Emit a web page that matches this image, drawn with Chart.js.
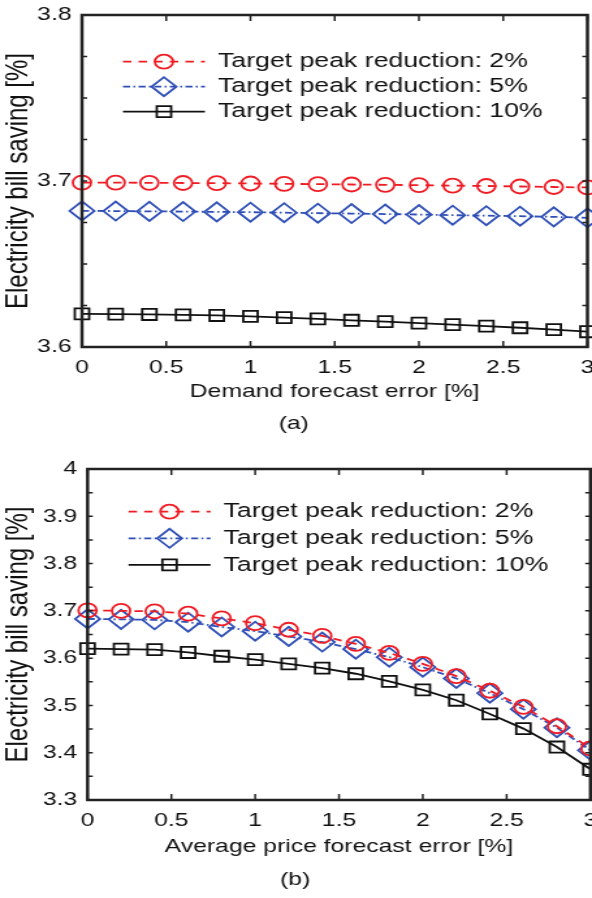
<!DOCTYPE html>
<html>
<head>
<meta charset="utf-8">
<title>Electricity bill saving vs forecast error</title>
<script src="https://cdn.jsdelivr.net/npm/chart.js@4.4.1/dist/chart.umd.min.js"></script>
<style>
  html, body { margin: 0; padding: 0; background: #fff; }
  #wrap { position: relative; width: 592px; height: 898px; overflow: hidden; }
  canvas { position: absolute; left: 0; }
</style>
</head>
<body>
<div id="wrap">
  <!-- the figure is wider than its fonts suggest, so each canvas is stretched sideways -->
  <canvas id="chartA" width="455" height="440" style="top:0;width:592px;height:440px"></canvas>
  <canvas id="chartB" width="455" height="458" style="top:440px;width:592px;height:458px"></canvas>
</div>
<script>
// data
const errorPct = [0, 0.2, 0.4, 0.6, 0.8, 1, 1.2, 1.4, 1.6, 1.8, 2, 2.2, 2.4, 2.6, 2.8, 3];
const seriesLabels = ['Target peak reduction: 2%', 'Target peak reduction: 5%', 'Target peak reduction: 10%'];

// (a) demand forecast error
const demandSave2 = [3.699, 3.699, 3.6989, 3.6988, 3.6987, 3.6985, 3.6983, 3.6981, 3.6979, 3.6977, 3.6975, 3.6972, 3.6970, 3.6967, 3.6964, 3.6961];
const demandSave5 = [3.682, 3.6819, 3.6817, 3.6816, 3.6814, 3.6812, 3.6809, 3.6806, 3.6804, 3.6801, 3.6798, 3.6794, 3.6791, 3.6788, 3.6784, 3.6778];
const demandSave10 = [3.620, 3.6198, 3.6196, 3.6194, 3.619, 3.6184, 3.6177, 3.6169, 3.6161, 3.6153, 3.6144, 3.6135, 3.6126, 3.6116, 3.6105, 3.6092];

// (b) average price forecast error
const priceSave2 = [3.701, 3.700, 3.699, 3.694, 3.684, 3.674, 3.660, 3.647, 3.630, 3.611, 3.588, 3.562, 3.531, 3.497, 3.456, 3.409];
const priceSave5 = [3.683, 3.682, 3.681, 3.676, 3.666, 3.657, 3.646, 3.634, 3.619, 3.602, 3.581, 3.557, 3.526, 3.492, 3.453, 3.405];
const priceSave10 = [3.620, 3.619, 3.618, 3.612, 3.604, 3.597, 3.588, 3.579, 3.567, 3.551, 3.533, 3.511, 3.482, 3.451, 3.412, 3.365];

const xTicks = [0, 0.5, 1, 1.5, 2, 2.5, 3];

const FONT = '"Liberation Sans", Arial, Helvetica, sans-serif';
const RED = '#ee1c24';
const BLUE = '#2f4fb6';
const BLACK = '#111111';

// box round the plot area with inward tick marks on all four sides
const frameTicks = {
    id: 'frameTicks',
    afterDatasetsDraw(chart) {
        const {ctx, chartArea: a, scales: {x, y}} = chart;
        ctx.save();
        ctx.strokeStyle = '#222';
        ctx.lineWidth = 1.5;
        ctx.beginPath();
        x.ticks.forEach(t => {
            const px = x.getPixelForValue(t.value);
            ctx.moveTo(px, a.bottom); ctx.lineTo(px, a.bottom - 6);
            ctx.moveTo(px, a.top); ctx.lineTo(px, a.top + 6);
        });
        y.ticks.forEach(t => {
            const py = y.getPixelForValue(t.value);
            ctx.moveTo(a.left, py); ctx.lineTo(a.left + 4, py);
            ctx.moveTo(a.right, py); ctx.lineTo(a.right - 4, py);
        });
        ctx.stroke();
        ctx.lineWidth = 2.5;
        ctx.strokeRect(a.left, a.top, a.right - a.left, a.bottom - a.top);
        ctx.restore();
    }
};

// legend drawn inside the plot area, like the original figure
const boxLegend = {
    id: 'boxLegend',
    afterDraw(chart, args, opts) {
        const {ctx, chartArea: a} = chart;
        ctx.save();
        chart.data.datasets.forEach((ds, i) => {
            const yy = a.top + opts.top + i * opts.gap;
            const x0 = a.left + opts.left;
            const x1 = x0 + opts.lineLen;
            ctx.strokeStyle = ds.borderColor;
            ctx.lineWidth = ds.borderWidth;
            ctx.setLineDash(ds.borderDash || []);
            ctx.beginPath();
            ctx.moveTo(x0, yy);
            ctx.lineTo(x1, yy);
            ctx.stroke();
            ctx.setLineDash([]);
            ctx.fillStyle = 'rgba(0,0,0,0)';
            ctx.lineWidth = ds.pointBorderWidth;
            Chart.helpers.drawPoint(ctx, {
                pointStyle: ds.pointStyle,
                radius: ds.pointRadius,
                borderWidth: ds.pointBorderWidth,
                rotation: 0
            }, (x0 + x1) / 2, yy);
            ctx.fillStyle = '#111';
            ctx.font = opts.fontSize + 'px ' + FONT;
            ctx.textBaseline = 'middle';
            ctx.textAlign = 'left';
            ctx.fillText(ds.label, x1 + opts.textGap, yy);
        });
        ctx.restore();
    }
};

function toPoints(vals) {
    return errorPct.map((e, i) => ({x: e, y: vals[i]}));
}

function makeSets(s2, s5, s10) {
    return [
        {label: seriesLabels[0], data: toPoints(s2), borderColor: RED, borderWidth: 1.8, borderDash: [6.5, 5.5],
         pointStyle: 'circle', pointRadius: 7, pointBorderWidth: 1.8, pointBorderColor: RED,
         pointBackgroundColor: 'rgba(0,0,0,0)', clip: false, tension: 0},
        {label: seriesLabels[1], data: toPoints(s5), borderColor: BLUE, borderWidth: 1.8, borderDash: [5.5, 2.5, 1.5, 2.5],
         pointStyle: 'rectRot', pointRadius: 9.5, pointBorderWidth: 1.8, pointBorderColor: BLUE,
         pointBackgroundColor: 'rgba(0,0,0,0)', clip: false, tension: 0},
        {label: seriesLabels[2], data: toPoints(s10), borderColor: BLACK, borderWidth: 1.8,
         pointStyle: 'rect', pointRadius: 7.8, pointBorderWidth: 1.8, pointBorderColor: BLACK,
         pointBackgroundColor: 'rgba(0,0,0,0)', clip: false, tension: 0}
    ];
}

function tenthLabel(v) {
    const r = Math.round(v * 10);
    if (Math.abs(v * 10 - r) > 1e-6) return '';
    return String(r / 10);
}

function makeChart(id, p) {
    const ctx = document.getElementById(id).getContext('2d');
    return new Chart(ctx, {
        type: 'line',
        data: {datasets: makeSets(p.s2, p.s5, p.s10)},
        options: {
            responsive: false,
            animation: false,
            devicePixelRatio: 1,
            layout: {padding: p.pad, autoPadding: false},
            scales: {
                x: {
                    type: 'linear', min: 0, max: 3,
                    grid: {display: false, drawTicks: false},
                    border: {display: false},
                    afterBuildTicks: s => { s.ticks = xTicks.map(v => ({value: v})); },
                    ticks: {padding: 9, maxRotation: 0, autoSkip: false, color: '#111',
                            font: {family: FONT, size: 19}, callback: v => String(v)},
                    title: {display: true, text: p.xTitle, color: '#111',
                            font: {family: FONT, size: 19}, padding: {top: 0, bottom: p.xTitlePad}},
                    afterFit: s => { s.height = p.xHeight; s.paddingLeft = 0; s.paddingRight = 0; }
                },
                y: {
                    type: 'linear', min: p.yMin, max: p.yMax,
                    grid: {display: false, drawTicks: false},
                    border: {display: false},
                    ticks: {stepSize: p.yStep, autoSkip: false, padding: 8, color: '#111',
                            font: {family: FONT, size: 19}, callback: tenthLabel},
                    title: {display: true, text: 'Electricity bill saving [%]', color: '#111',
                            font: {family: FONT, size: 24}, padding: {top: 0, bottom: 0}},
                    afterFit: s => { s.width = p.yWidth; s.paddingTop = 0; s.paddingBottom = 0; }
                }
            },
            plugins: {
                legend: {display: false},
                tooltip: {enabled: false},
                title: {display: true, position: 'bottom', text: p.caption, color: '#111',
                        font: {family: FONT, size: 19, weight: 'normal'}, padding: 0},
                boxLegend: {top: p.legTop, gap: p.legGap, left: 31.5, lineLen: 63, textGap: 10, fontSize: 20.5}
            }
        },
        plugins: [frameTicks, boxLegend]
    });
}

makeChart('chartA', {
    s2: demandSave2, s5: demandSave5, s10: demandSave10,
    yMin: 3.6, yMax: 3.8, yStep: 0.025,
    xTitle: 'Demand forecast error [%]', caption: '(a)',
    pad: {left: 0, right: 3.5, top: 15, bottom: 4.6},
    xHeight: 65.6, xTitlePad: 9.2, yWidth: 63,
    legTop: 46.7, legGap: 25
});

makeChart('chartB', {
    s2: priceSave2, s5: priceSave5, s10: priceSave10,
    yMin: 3.3, yMax: 4, yStep: 0.05,
    xTitle: 'Average price forecast error [%]', caption: '(b)',
    pad: {left: 0, right: 1.2, top: 29, bottom: 6.6},
    xHeight: 68.6, xTitlePad: 10.2, yWidth: 67.3,
    legTop: 42.7, legGap: 26.6
});
</script>
</body>
</html>
